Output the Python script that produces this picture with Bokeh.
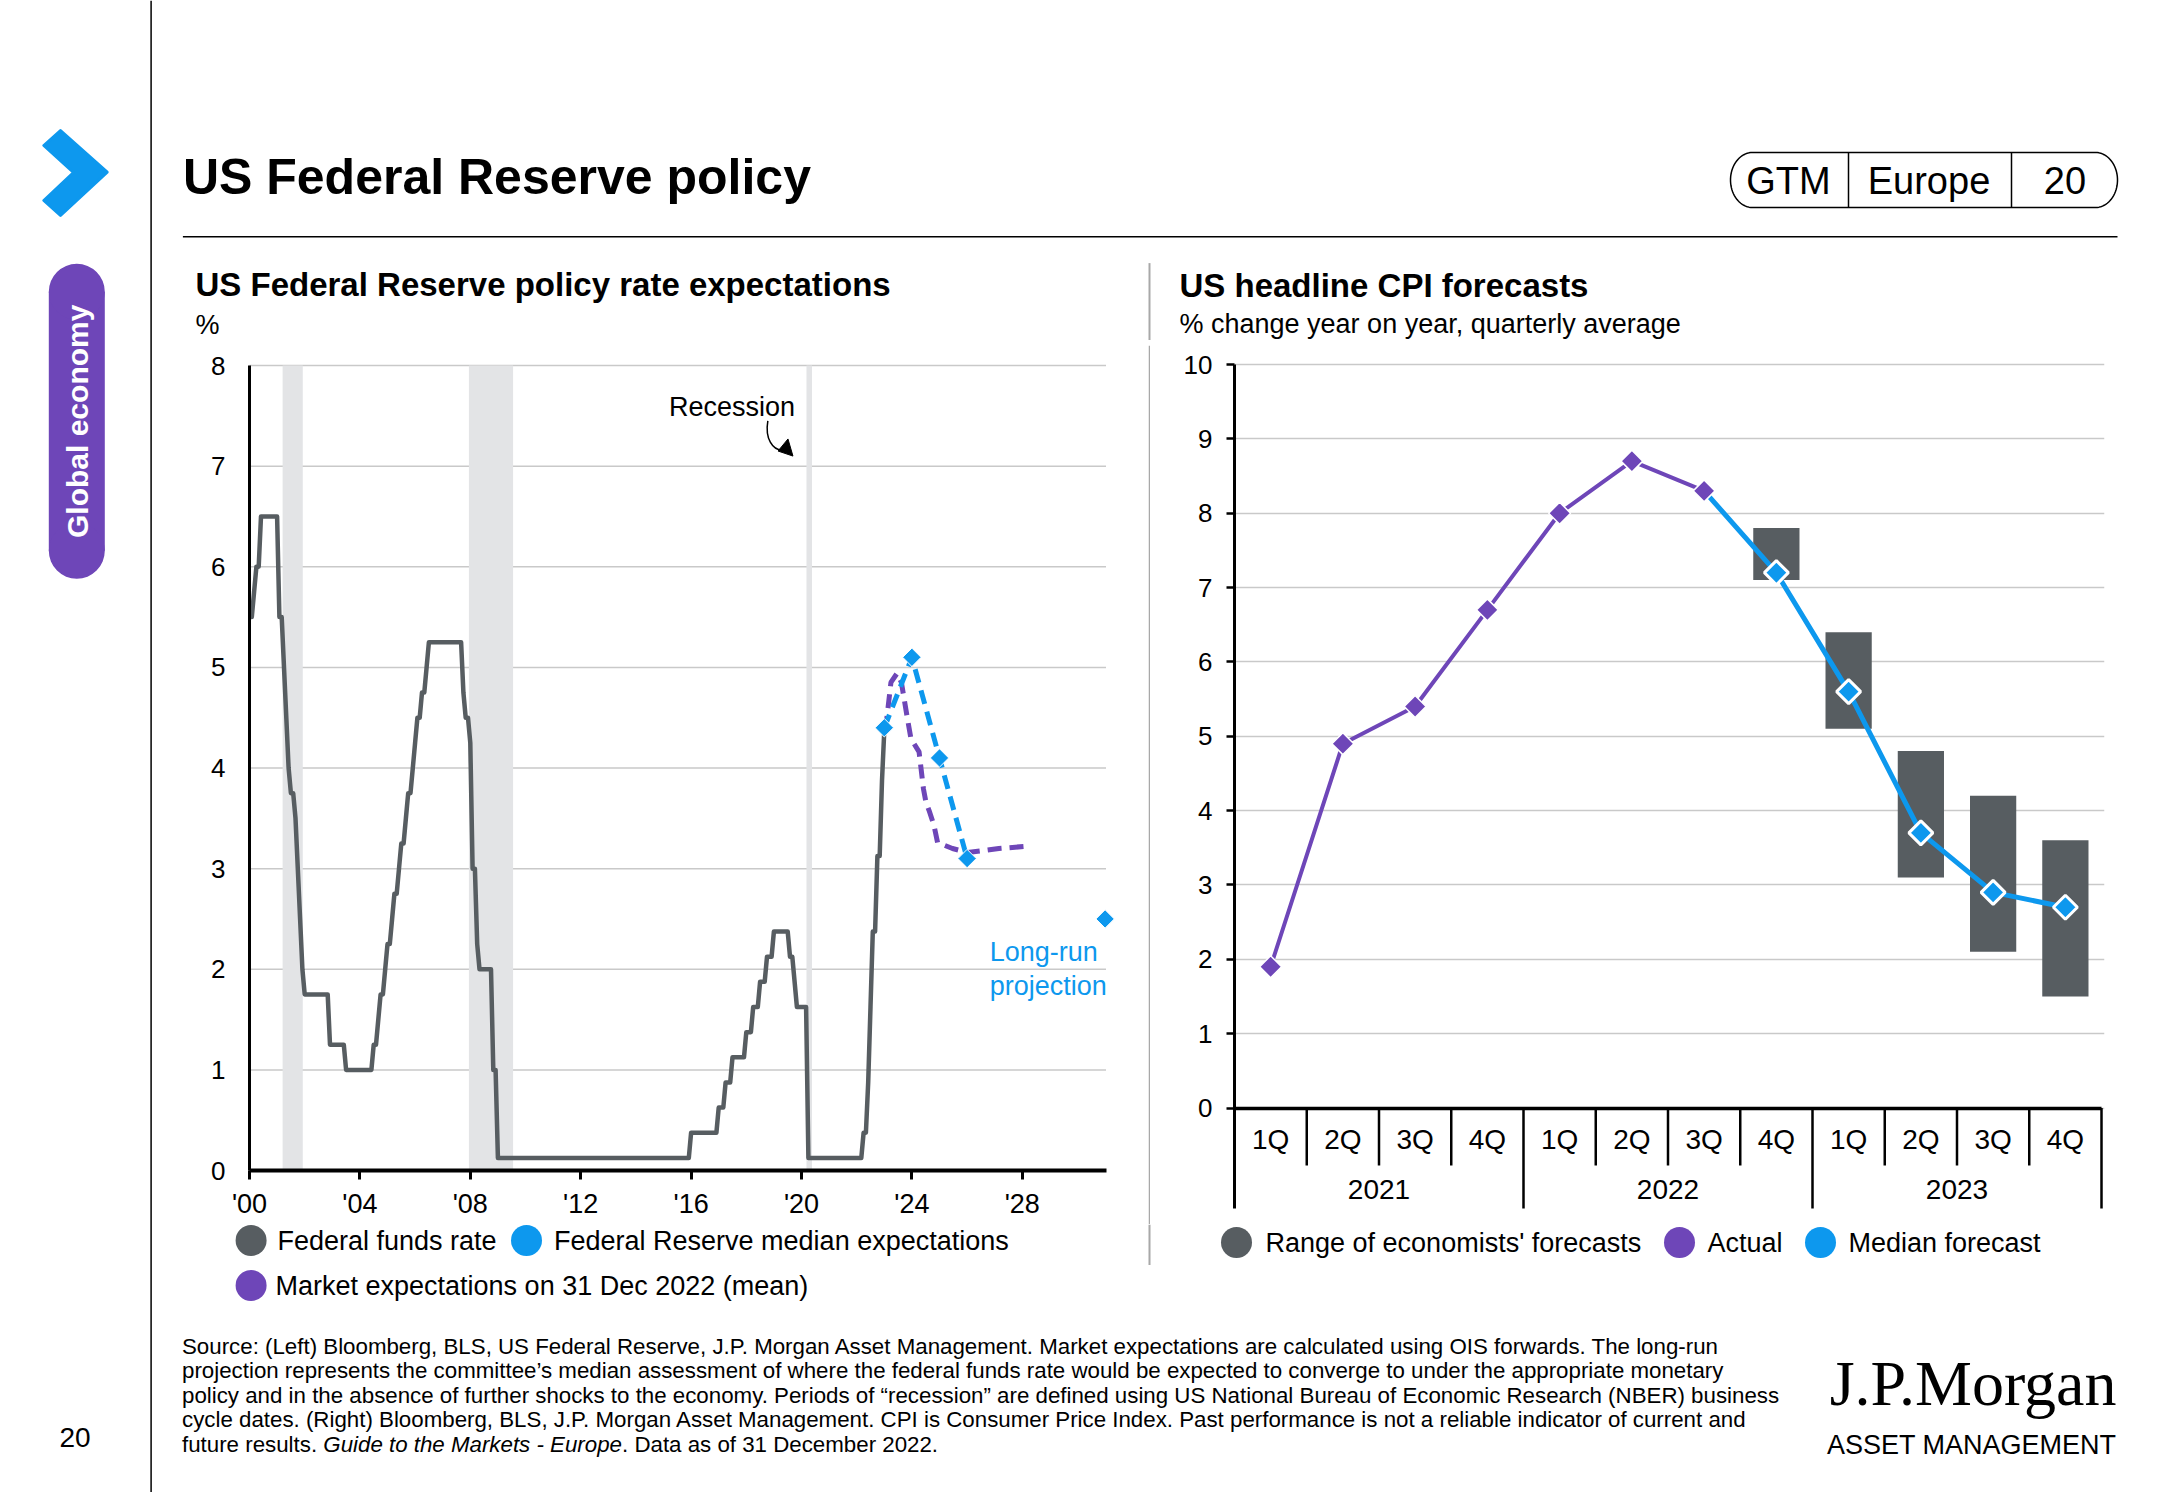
import numpy as np
from bokeh.plotting import figure
from bokeh.models import Range1d, LinearAxis, FixedTicker
from bokeh.layouts import row, column
from bokeh.embed import file_html
from bokeh.resources import INLINE
from bokeh.core.properties import value

FONT = "Liberation Sans"
SERIF = "Liberation Serif"
GRAY = "#575d61"
BLUE = "#0d98ee"
PURPLE = "#6e46b8"
REC = "#e3e4e6"
GRID = "#c9c9c9"
SEPC = "#a8a8a8"

# ---------------- DATA: left chart ----------------
ff_start_level = 5.5  # level at end of Dec 1999
ff_change_year = [2000, 2000, 2000,
                  2001, 2001, 2001, 2001, 2001, 2001, 2001, 2001, 2001, 2001,
                  2002, 2003,
                  2004, 2004, 2004, 2004, 2004,
                  2005, 2005, 2005, 2005, 2005, 2005, 2005, 2005,
                  2006, 2006, 2006, 2006,
                  2007, 2007, 2007,
                  2008, 2008, 2008, 2008, 2008,
                  2015, 2016,
                  2017, 2017, 2017,
                  2018, 2018, 2018, 2018,
                  2019, 2019, 2019,
                  2020,
                  2022, 2022, 2022, 2022, 2022, 2022, 2022]
ff_change_month = [2, 3, 5,
                   1, 3, 4, 5, 6, 8, 9, 10, 11, 12,
                   11, 6,
                   6, 8, 9, 11, 12,
                   2, 3, 5, 6, 8, 9, 11, 12,
                   1, 3, 5, 6,
                   9, 10, 12,
                   1, 3, 4, 10, 12,
                   12, 12,
                   3, 6, 12,
                   3, 6, 9, 12,
                   7, 9, 10,
                   3,
                   3, 5, 6, 7, 9, 11, 12]
ff_change_level = [5.75, 6.0, 6.5,
                   5.5, 5.0, 4.5, 4.0, 3.75, 3.5, 3.0, 2.5, 2.0, 1.75,
                   1.25, 1.0,
                   1.25, 1.5, 1.75, 2.0, 2.25,
                   2.5, 2.75, 3.0, 3.25, 3.5, 3.75, 4.0, 4.25,
                   4.5, 4.75, 5.0, 5.25,
                   4.75, 4.5, 4.25,
                   3.0, 2.25, 2.0, 1.0, 0.125,
                   0.375, 0.625,
                   0.875, 1.125, 1.375,
                   1.625, 1.875, 2.125, 2.375,
                   2.125, 1.875, 1.625,
                   0.125,
                   0.375, 0.875, 1.625, 2.375, 3.125, 3.875, 4.375]

fed_median_x = [2023.0, 2024.0, 2025.0, 2026.0]
fed_median_y = [4.4, 5.1, 4.1, 3.1]
long_run_x = [2031.0]
long_run_y = [2.5]

market_x = [2023.0, 2023.09, 2023.24, 2023.46, 2023.62, 2023.82, 2023.96, 2024.08,
            2024.26, 2024.42, 2024.51, 2024.62, 2024.8, 2024.93, 2025.47, 2026.02,
            2026.62, 2027.15, 2028.06]
market_y = [4.38, 4.49, 4.85, 4.94, 4.85, 4.52, 4.30, 4.24,
            4.16, 3.79, 3.66, 3.58, 3.43, 3.26, 3.20, 3.16,
            3.18, 3.20, 3.22]

recession_start = [2001.2, 2007.95, 2020.18]
recession_end = [2001.93, 2009.55, 2020.38]

rate_ticks = [0, 1, 2, 3, 4, 5, 6, 7, 8]
year_ticks = [2000, 2004, 2008, 2012, 2016, 2020, 2024, 2028]
year_tick_labels = ["'00", "'04", "'08", "'12", "'16", "'20", "'24", "'28"]
left_legend_labels = ["Federal funds rate", "Federal Reserve median expectations",
                      "Market expectations on 31 Dec 2022 (mean)"]

# ---------------- DATA: right chart ----------------
quarters = ["1Q", "2Q", "3Q", "4Q"] * 3
years = ["2021", "2022", "2023"]
cpi_ticks = [0, 1, 2, 3, 4, 5, 6, 7, 8, 9, 10]
cpi_actual = [1.9, 4.9, 5.4, 6.7, 8.0, 8.7, 8.3]          # 1Q21 - 3Q22
cpi_median = [7.2, 5.6, 3.7, 2.9, 2.7]                     # 4Q22 - 4Q23
cpi_low = [7.1, 5.1, 3.1, 2.1, 1.5]
cpi_high = [7.8, 6.4, 4.8, 4.2, 3.6]
right_legend_labels = ["Range of economists' forecasts", "Actual", "Median forecast"]

# ---------------- helpers ----------------
def canvas(x0, x1, y0, y1):
    p = figure(width=int(x1 - x0), height=int(y1 - y0),
               x_range=Range1d(x0, x1), y_range=Range1d(y1, y0),
               toolbar_location=None, output_backend="svg",
               x_axis_location=None, y_axis_location=None, min_border=0,
               outline_line_color=None, background_fill_color="white",
               border_fill_color="white")
    p.grid.visible = False
    p.title.visible = False
    return p


def txt(p, x, y, s, size, color="black", style="normal", align="left",
        baseline="middle", font=FONT, angle=0.0):
    p.text(x=[x], y=[y], text=[s], text_font=value(font),
           text_font_size=f"{size}px", text_font_style=style,
           text_color=color, text_align=align, text_baseline=baseline,
           angle=angle)


CW = {' ': 278, '.': 278, ',': 278, '-': 333, '(': 333, ')': 333, ':': 278}
for ch in "0123456789":
    CW[ch] = 556
CW.update(dict(zip("abcdefghijklmnopqrstuvwxyz",
                   [556, 556, 500, 556, 556, 278, 556, 556, 222, 222, 500, 222, 833,
                    556, 556, 556, 556, 333, 500, 278, 556, 500, 722, 500, 500, 500])))
CW.update(dict(zip("ABCDEFGHIJKLMNOPQRSTUVWXYZ",
                   [667, 667, 722, 722, 667, 611, 778, 722, 278, 500, 667, 556, 833,
                    722, 778, 667, 778, 722, 667, 611, 722, 667, 944, 667, 667, 611])))


def tw(s, size):
    return sum(CW.get(c, 556) for c in s) * size / 1000.0


ROW_TOP, ROW_BOT = 340, 1224
FRAME_TOP = 345          # shared by both charts (row aligns plot borders)

# ---------------- sidebar ----------------
sb = canvas(0, 160, 0, 1492)
sb.segment(x0=[150.6], y0=[0], x1=[150.6], y1=[1492], line_color="black", line_width=1.5)
sb.patch(x=[60, 106.7, 60, 43.3, 73, 43.3], y=[130, 171.7, 215, 200, 172, 145],
         fill_color=BLUE, line_color=BLUE, line_width=3, line_join="round")
sb.quad(left=[48.3], right=[104.3], top=[291.3], bottom=[550.3],
        fill_color=PURPLE, line_color=None)
sb.circle(x=[76.3, 76.3], y=[291.3, 550.3], radius=28, fill_color=PURPLE, line_color=None)
txt(sb, 76.5, 420.8, "Global economy", 30, color="white", style="bold",
    align="center", angle=np.pi / 2)
txt(sb, 74.6, 1437, "20", 28, align="center")

# ---------------- header ----------------
hd = canvas(160, 2159, 0, ROW_TOP)
txt(hd, 182.4, 176.3, "US Federal Reserve policy", 50, style="bold")
hd.segment(x0=[182.4], y0=[236.3], x1=[2117], y1=[236.3], line_color="black", line_width=1.5)
pl, pr, ptop, pbot = 1730, 2117, 152, 207
cy = (ptop + pbot) / 2
ry = (pbot - ptop) / 2
rx = 22
th1 = np.linspace(np.pi / 2, 3 * np.pi / 2, 40)
th2 = np.linspace(-np.pi / 2, np.pi / 2, 40)
pill_x = np.concatenate([pl + rx + rx * np.cos(th1), pr - rx + rx * np.cos(th2)])
pill_y = np.concatenate([cy - ry * np.sin(th1), cy - ry * np.sin(th2)])
hd.patch(x=pill_x, y=pill_y, fill_color=None, line_color="black", line_width=1.5)
hd.segment(x0=[1848, 2011], y0=[ptop, ptop], x1=[1848, 2011], y1=[pbot, pbot],
           line_color="black", line_width=1.5)
txt(hd, 1788, 180, "GTM", 38, align="center")
txt(hd, 1928.5, 180, "Europe", 38, align="center")
txt(hd, 2064.5, 180, "20", 38, align="center")
txt(hd, 195, 284.2, "US Federal Reserve policy rate expectations", 33, style="bold")
txt(hd, 195, 324, "%", 27)
txt(hd, 1179, 284.5, "US headline CPI forecasts", 33, style="bold")
txt(hd, 1179, 323.5, "% change year on year, quarterly average", 27)
hd.quad(left=[1148], right=[1150], top=[262.6], bottom=[ROW_TOP], fill_color=SEPC, line_color=None)

# ---------------- left chart ----------------
LX0, LX1 = 160, 1148
FL_FRAME = 200           # frame left (px); the y axis sits at 2000 = px 249
AXIS_X = 249
ppy = 27.6
y0_px, y8_px = 1170, 365
ppu = (y0_px - y8_px) / 8.0
l_y_end = 8 + (y8_px - FRAME_TOP) / ppu
l_y_start = -(ROW_BOT - y0_px) / ppu
x_start = 2000 - (AXIS_X - FL_FRAME) / ppy
mbr = 34
x_end = 2000 + (LX1 - mbr - AXIS_X) / ppy
grid_end = 2000 + (1105.5 - AXIS_X) / ppy

p1 = figure(width=LX1 - LX0, height=ROW_BOT - ROW_TOP,
            x_range=Range1d(x_start, x_end), y_range=Range1d(l_y_start, l_y_end),
            x_axis_location=None, y_axis_location=None,
            toolbar_location=None, output_backend="svg",
            min_border_left=FL_FRAME - LX0, min_border_right=mbr,
            min_border_top=FRAME_TOP - ROW_TOP, min_border_bottom=0,
            outline_line_color=None)
p1.title.visible = False
p1.grid.visible = False

# horizontal gridlines, from the y axis to the right edge of the plot area
grid_levels = rate_ticks[1:]
p1.segment(x0=[2000] * len(grid_levels), y0=grid_levels, x1=[grid_end] * len(grid_levels),
           y1=grid_levels, line_color=GRID, line_width=1.5)

ya = LinearAxis(fixed_location=2000, ticker=FixedTicker(ticks=rate_ticks), bounds=(0, 8),
                axis_line_width=3, axis_line_color="black",
                major_tick_out=0, major_tick_in=0, minor_tick_out=0, minor_tick_in=0,
                major_label_standoff=24, major_label_text_font=FONT,
                major_label_text_font_size="26px", major_label_text_color="black")
p1.add_layout(ya, "left")
xa = LinearAxis(fixed_location=0, ticker=FixedTicker(ticks=year_ticks),
                major_label_overrides=dict(zip(year_ticks, year_tick_labels)),
                bounds=(2000, grid_end),
                axis_line_width=4, axis_line_color="black",
                major_tick_out=9, major_tick_in=0, major_tick_line_width=3,
                minor_tick_out=0, minor_tick_in=0,
                major_label_standoff=9, major_label_text_font=FONT,
                major_label_text_font_size="27px", major_label_text_color="black")
p1.add_layout(xa, "below")

p1.quad(left=recession_start, right=recession_end, bottom=0, top=8,
        fill_color=REC, line_color=None)

ff_x = [2000.0]
ff_y = [ff_start_level]
changes = {(y, m): l for y, m, l in zip(ff_change_year, ff_change_month, ff_change_level)}
lvl = ff_start_level
for yy in range(2000, 2023):
    for mm in range(1, 13):
        if (yy, mm) in changes:
            lvl = changes[(yy, mm)]
        ff_x.append(yy + mm / 12.0)
        ff_y.append(lvl)

p1.line(ff_x, ff_y, line_color=GRAY, line_width=4.5, line_join="round")
p1.line(market_x, market_y, line_color=PURPLE, line_width=5, line_dash="14 8")
p1.line(fed_median_x, fed_median_y, line_color=BLUE, line_width=5, line_dash="14 8")
p1.scatter(fed_median_x + long_run_x, fed_median_y + long_run_y, marker="square",
           angle=np.pi / 4, size=13, fill_color=BLUE, line_color="white", line_width=1)

# annotations
txt(p1, 2017.48, 7.588, "Recession", 27, align="center")
p1.bezier(x0=[2018.78], y0=[7.45], x1=[2019.29], y1=[7.16],
          cx0=[2018.67], cy0=[7.27], cx1=[2018.96], cy1=[7.16],
          line_color="black", line_width=1.5)
p1.patch(x=[2019.69, 2019.15, 2019.51], y=[7.10, 7.15, 7.27], fill_color="black",
         line_color="black", line_width=1)
p1.text(x=[2026.82, 2026.82], y=[2.17, 1.838], text=["Long-run", "projection"],
        text_font=value(FONT), text_font_size="27px", text_color=BLUE,
        text_align="left", text_baseline="middle")

# ---------------- separator ----------------
sepf = canvas(1148, 1150, ROW_TOP, ROW_BOT)
sepf.quad(left=[1148], right=[1150], top=[ROW_TOP], bottom=[ROW_BOT], fill_color=SEPC, line_color=None)

# ---------------- right chart ----------------
RX0, RX1 = 1150, 2159
fl2, fr2 = 1234, 2104
cat_px = (2101 - 1234) / 12.0
r_x_end = (fr2 - fl2) / cat_px - 0.5
y0r, y10r = 1107.5, 364
ppu2 = (y0r - y10r) / 10.0
r_y_start = -(ROW_BOT - y0r) / ppu2
r_y_end = 10 + (y10r - FRAME_TOP) / ppu2
q_div_bottom = -(1165 - y0r) / ppu2
y_div_bottom = -(1208 - y0r) / ppu2

p2 = figure(width=RX1 - RX0, height=ROW_BOT - ROW_TOP,
            x_range=Range1d(-0.5, r_x_end), y_range=Range1d(r_y_start, r_y_end),
            x_axis_location=None, toolbar_location=None, output_backend="svg",
            min_border_left=fl2 - RX0, min_border_right=RX1 - fr2,
            min_border_top=FRAME_TOP - ROW_TOP, min_border_bottom=0,
            outline_line_color=None)
p2.title.visible = False
p2.xgrid.visible = False
p2.ygrid.grid_line_color = GRID
p2.ygrid.grid_line_width = 1.5
p2.ygrid.bounds = (-0.5, 10.5)
ya2 = p2.yaxis[0]
ya2.ticker = FixedTicker(ticks=cpi_ticks)
ya2.bounds = (y_div_bottom, 10)
ya2.axis_line_width = 3
ya2.axis_line_color = "black"
ya2.major_tick_out = 8
ya2.major_tick_in = 0
ya2.major_tick_line_width = 2.5
ya2.minor_tick_out = 0
ya2.minor_tick_in = 0
ya2.major_label_standoff = 14
ya2.major_label_text_font = FONT
ya2.major_label_text_font_size = "26px"
ya2.major_label_text_color = "black"

n_cat = len(quarters)
cat_x = list(range(n_cat))
qa = LinearAxis(fixed_location=0, ticker=FixedTicker(ticks=cat_x),
                major_label_overrides=dict(zip(cat_x, quarters)),
                axis_line_width=3.5, axis_line_color="black", bounds=(-0.5, n_cat - 0.5),
                major_tick_out=0, major_tick_in=0, minor_tick_out=0, minor_tick_in=0,
                major_label_standoff=16, major_label_text_font=FONT,
                major_label_text_font_size="28px", major_label_text_color="black")
p2.add_layout(qa, "below")
year_centers = [4 * i + 1.5 for i in range(len(years))]
yax = LinearAxis(fixed_location=0, ticker=FixedTicker(ticks=year_centers),
                 major_label_overrides=dict(zip(year_centers, years)),
                 axis_line_color=None,
                 major_tick_out=0, major_tick_in=0, minor_tick_out=0, minor_tick_in=0,
                 major_label_standoff=72, major_label_text_font=FONT,
                 major_label_text_font_size="28px", major_label_text_color="black")
p2.add_layout(yax, "below")

q_bounds = [i + 0.5 for i in range(n_cat - 1) if (i + 1) % 4 != 0]
y_bounds = [4 * (i + 1) - 0.5 for i in range(len(years))]
p2.segment(x0=q_bounds, y0=[0] * len(q_bounds), x1=q_bounds, y1=[q_div_bottom] * len(q_bounds),
           line_color="black", line_width=2.5)
p2.segment(x0=y_bounds, y0=[0] * len(y_bounds), x1=y_bounds, y1=[y_div_bottom] * len(y_bounds),
           line_color="black", line_width=2.5)

act_x = cat_x[:len(cpi_actual)]
fc_x = cat_x[len(cpi_actual):]
p2.vbar(x=fc_x, width=0.64, bottom=cpi_low, top=cpi_high, fill_color=GRAY, line_color=None)
p2.line(act_x, cpi_actual, line_color=PURPLE, line_width=4, line_join="round")
p2.line([act_x[-1]] + fc_x, [cpi_actual[-1]] + cpi_median, line_color=BLUE, line_width=5,
        line_join="round")
p2.scatter(act_x, cpi_actual, marker="square", angle=np.pi / 4, size=15.5,
           fill_color=PURPLE, line_color="white", line_width=1.5)
p2.scatter(fc_x, cpi_median, marker="square", angle=np.pi / 4, size=17,
           fill_color=BLUE, line_color="white", line_width=3)

# ---------------- bottom: legends + footer ----------------
bt = canvas(160, 2159, ROW_BOT, 1492)
bt.quad(left=[1148], right=[1150], top=[ROW_BOT], bottom=[1264.5], fill_color=SEPC, line_color=None)

left_leg_cx = [250.6, 526, 250.6]
left_leg_cy = [1240, 1240, 1285]
left_leg_tx = [277, 553.5, 275]
bt.scatter(x=left_leg_cx, y=left_leg_cy, marker="circle", size=31,
           fill_color=[GRAY, BLUE, PURPLE], line_color=None)
bt.text(x=left_leg_tx, y=left_leg_cy, text=left_legend_labels, text_font=value(FONT),
        text_font_size="27px", text_color="black", text_align="left", text_baseline="middle")

right_leg_cx = [1236, 1679, 1820]
right_leg_tx = [1265, 1707, 1848]
right_leg_cy = [1242, 1242, 1242]
bt.scatter(x=right_leg_cx, y=right_leg_cy, marker="circle", size=31,
           fill_color=[GRAY, PURPLE, BLUE], line_color=None)
bt.text(x=right_leg_tx, y=right_leg_cy, text=right_legend_labels, text_font=value(FONT),
        text_font_size="27px", text_color="black", text_align="left", text_baseline="middle")

FS = 22.3
foot_lines = [
    "Source: (Left) Bloomberg, BLS, US Federal Reserve, J.P. Morgan Asset Management.  Market expectations are calculated using OIS forwards. The long-run",
    "projection represents the committee\u2019s median assessment of where the federal funds rate would be expected to converge to under the appropriate monetary",
    "policy and in the absence of further shocks to the economy. Periods of \u201crecession\u201d are defined using US National Bureau of Economic Research (NBER) business",
    "cycle dates. (Right) Bloomberg, BLS, J.P. Morgan Asset Management.  CPI is Consumer Price Index.  Past performance is not a reliable indicator of current and",
]
base0 = 1345.5
lh = 24.6
for i, s in enumerate(foot_lines):
    txt(bt, 181.5, base0 + lh * i, s, FS)
s1 = "future results. "
s2 = "Guide to the Markets - Europe"
s3 = ". Data as of 31 December 2022."
yb = base0 + lh * 4
txt(bt, 181.5, yb, s1, FS)
txt(bt, 181.5 + tw(s1, FS), yb, s2, FS, style="italic")
txt(bt, 181.5 + tw(s1, FS) + tw(s2, FS), yb, s3, FS)
txt(bt, 2116, 1383, "J.P.Morgan", 64, font=SERIF, align="right")
txt(bt, 2116, 1444, "ASSET MANAGEMENT", 27, align="right")

layout = row(sb, column(hd, row(p1, sepf, p2), bt))
open("out.html", "w").write(file_html(layout, INLINE))
